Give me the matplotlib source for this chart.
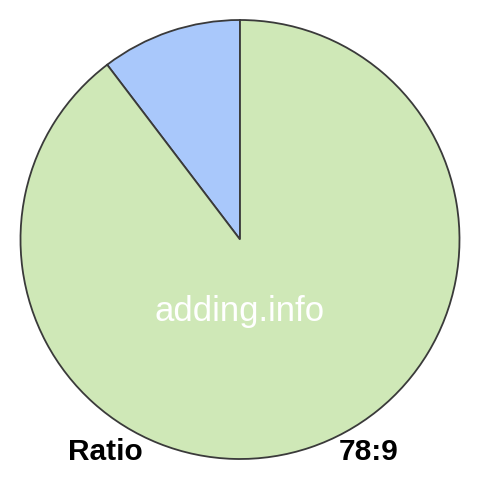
import matplotlib
matplotlib.use("Agg")
import matplotlib.pyplot as plt

# slice values, in drawing order (counter-clockwise from 12 o'clock)
values = [9, 78]
colors = ["#a9c8fb", "#cfe8b7"]
ratio_text = "78:9"

fig = plt.figure(figsize=(4.8, 4.8), dpi=100)
ax = fig.add_axes([0, 0, 1, 1])

ax.pie(values, colors=colors, startangle=90, counterclock=True,
       center=(240, 240.5), radius=219.5, frame=True,
       wedgeprops=dict(edgecolor="#3a3a3a", linewidth=1.3))
ax.set_xlim(0, 480)
ax.set_ylim(0, 480)
ax.set_aspect("equal")
ax.axis("off")

ax.text(240, 169, "adding.info", color="white", fontsize=25,
        ha="center", va="center", family="Liberation Sans")
ax.text(68, 28, "Ratio", color="black", fontsize=21.5, fontweight="bold",
        ha="left", va="center", family="Liberation Sans")
ax.text(398, 28, ratio_text, color="black", fontsize=21.5, fontweight="bold",
        ha="right", va="center", family="Liberation Sans")

fig.savefig("out.png", dpi=100)
